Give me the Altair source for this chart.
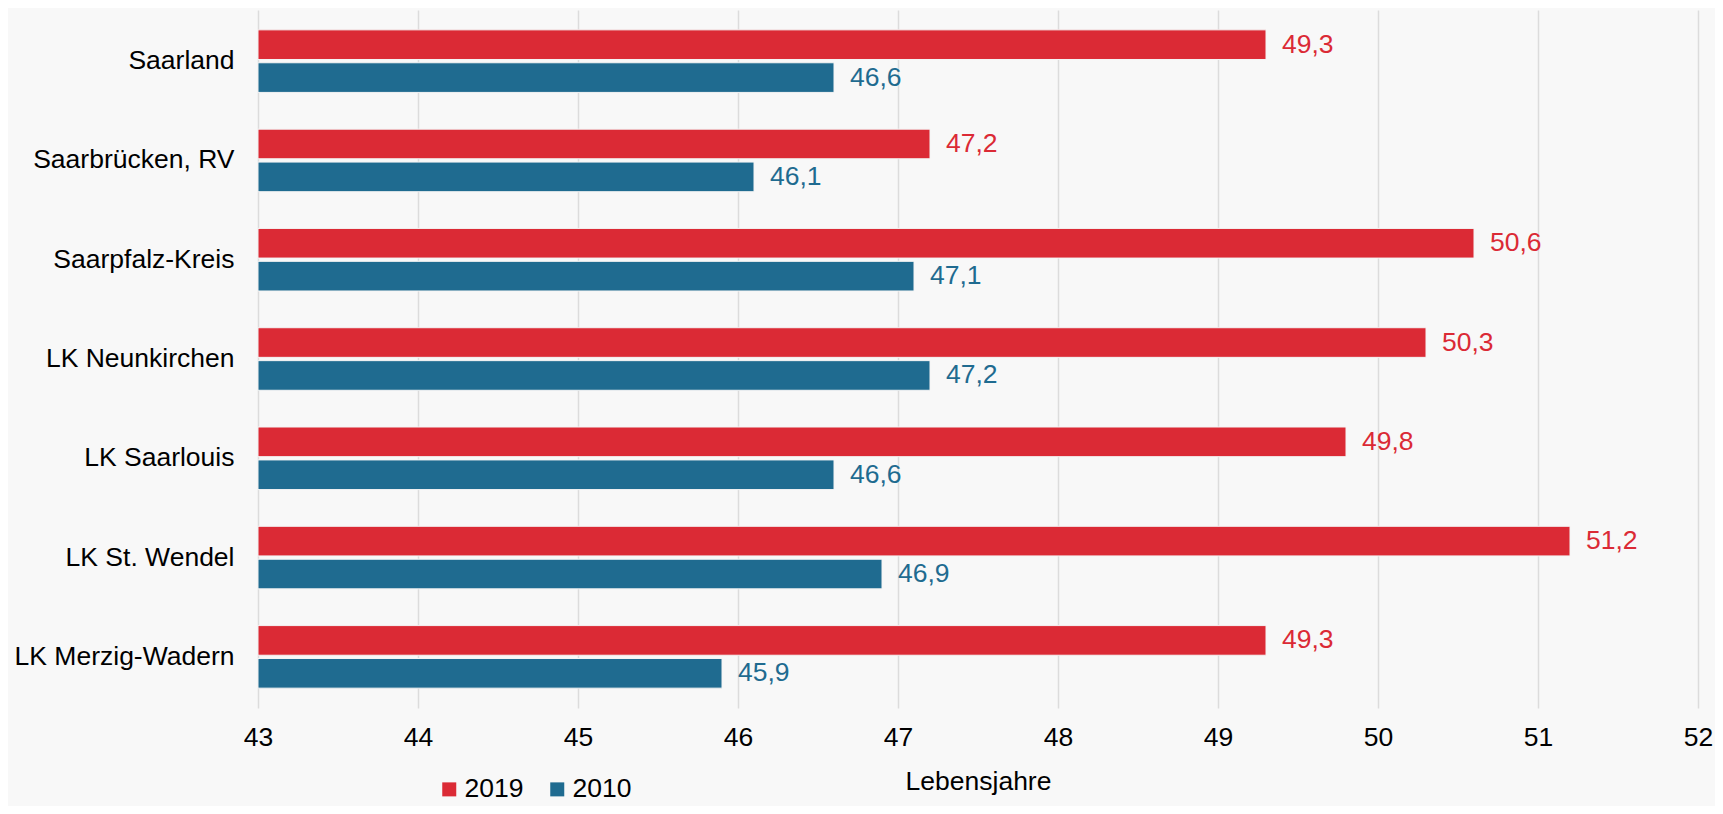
import altair as alt
import pandas as pd

regions = ["Saarland", "Saarbrücken, RV", "Saarpfalz-Kreis", "LK Neunkirchen",
           "LK Saarlouis", "LK St. Wendel", "LK Merzig-Wadern"]
v2019 = [49.3, 47.2, 50.6, 50.3, 49.8, 51.2, 49.3]
v2010 = [46.6, 46.1, 47.1, 47.2, 46.6, 46.9, 45.9]
years = ["2019", "2010"]
colors = ["#db2a35", "#1f6b90"]
ticks = [43, 44, 45, 46, 47, 48, 49, 50, 51, 52]

rows = []
for r, a, b in zip(regions, v2019, v2010):
    rows.append({"Region": r, "Jahr": "2019", "Wert": a, "Label": f"{a:.1f}".replace(".", ",")})
    rows.append({"Region": r, "Jahr": "2010", "Wert": b, "Label": f"{b:.1f}".replace(".", ",")})
df = pd.DataFrame(rows)

FONT = "Liberation Sans"
FS = 26.5

y_enc = alt.Y("Region:N", sort=regions,
              scale=alt.Scale(paddingInner=0.37, paddingOuter=0.2),
              axis=alt.Axis(title=None, ticks=False, domain=False, labelFontSize=FS,
                            labelFont=FONT, labelColor="#000000", labelPadding=24,
                            labelLimit=0, grid=False))
yoff = alt.YOffset("Jahr:N", sort=years, scale=alt.Scale(paddingInner=0.1))
color = alt.Color("Jahr:N", sort=years,
                  scale=alt.Scale(domain=years, range=colors),
                  legend=alt.Legend(title=None, orient="none", legendX=178, legendY=766,
                                    direction="horizontal", symbolType="square",
                                    symbolSize=196, symbolStrokeWidth=0, labelFontSize=FS,
                                    labelFont=FONT, labelColor="#000000", columnPadding=20,
                                    labelOffset=2, symbolOpacity=1, padding=0))

x_scale = alt.Scale(domain=[43, 52], nice=False, zero=False)

bars = alt.Chart(df).mark_bar(stroke="#f4f4f4", strokeWidth=1).encode(
    y=y_enc,
    yOffset=yoff,
    x=alt.X("Wert:Q", scale=x_scale,
            axis=alt.Axis(title="Lebensjahre", values=ticks, format="d", ticks=False,
                          domain=False, labelFontSize=FS, labelFont=FONT,
                          labelColor="#000000", labelPadding=16, labelFlush=False,
                          titleFontSize=FS, titleFont=FONT, titleFontWeight="normal",
                          titleColor="#000000", titlePadding=18,
                          gridColor="#dcdcdc", gridWidth=1.5)),
    x2=alt.datum(43),
    color=color,
)

labels = alt.Chart(df).mark_text(align="left", baseline="middle", dx=16, fontSize=FS,
                                 font=FONT).encode(
    y=alt.Y("Region:N", sort=regions),
    yOffset=alt.YOffset("Jahr:N", sort=years),
    x=alt.X("Wert:Q", scale=x_scale),
    text="Label:N",
    color=alt.Color("Jahr:N", sort=years, scale=alt.Scale(domain=years, range=colors), legend=None),
)

chart = alt.layer(bars, labels).properties(
    width=1440, height=698,
    autosize=alt.AutoSizeParams(type="none"),
    padding={"left": 250, "top": 2, "right": 17, "bottom": 98},
    background="#f8f8f8",
).configure_view(stroke=None, fill="#f8f8f8")

chart.save("out.html", embed_options={"renderer": "svg", "actions": False})
